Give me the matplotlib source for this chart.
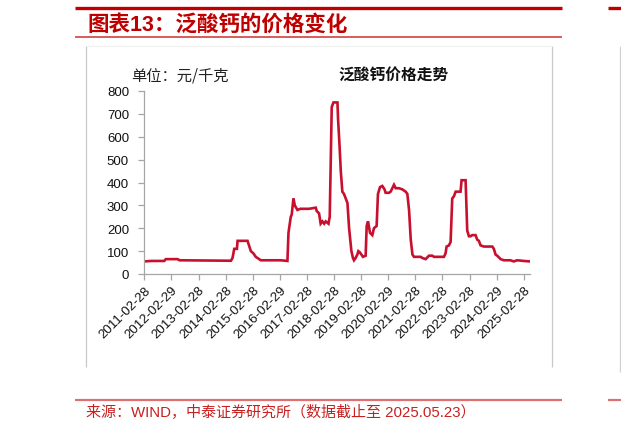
import matplotlib
matplotlib.use("Agg")
import matplotlib.pyplot as plt
import matplotlib.dates as mdates
from matplotlib.lines import Line2D
import pandas as pd

# ---- data ----
dates = [
    "2011-02-28", "2011-05-28", "2011-11-24", "2011-12-15", "2012-05-22", "2012-06-15",
    "2013-06-01", "2014-05-10", "2014-06-01", "2014-06-24", "2014-07-30", "2014-08-08",
    "2014-12-20", "2015-02-03", "2015-03-10", "2015-04-10", "2015-05-26", "2015-06-17",
    "2016-03-12", "2016-06-10", "2016-06-24", "2016-07-25", "2016-08-07", "2016-08-30",
    "2016-09-17", "2016-10-23", "2016-12-01", "2017-03-28", "2017-06-27", "2017-07-10",
    "2017-08-10", "2017-09-01", "2017-09-25", "2017-10-18", "2017-11-08", "2017-12-15",
    "2018-01-01", "2018-01-28", "2018-02-20", "2018-04-15", "2018-04-23", "2018-05-15",
    "2018-05-30", "2018-06-20", "2018-07-12", "2018-08-05", "2018-08-28", "2018-09-19",
    "2018-10-20", "2018-11-10", "2018-11-24", "2018-12-16", "2019-01-08", "2019-01-22",
    "2019-02-10", "2019-03-04", "2019-03-25", "2019-04-30", "2019-05-14", "2019-06-01",
    "2019-06-28", "2019-07-29", "2019-08-20", "2019-09-25", "2019-10-13", "2019-11-10",
    "2019-12-10", "2020-01-10", "2020-01-24", "2020-03-10", "2020-04-01", "2020-05-16",
    "2020-06-08", "2020-07-22", "2020-09-05", "2020-10-20", "2020-11-12", "2020-12-05",
    "2020-12-28", "2021-01-20", "2021-02-10", "2021-05-10", "2021-06-03", "2021-07-17",
    "2021-08-30", "2021-10-14", "2021-11-06", "2022-03-20", "2022-04-11", "2022-04-25",
    "2022-05-26", "2022-06-18", "2022-07-10", "2022-08-02", "2022-08-25", "2022-10-30",
    "2022-11-13", "2023-01-06", "2023-01-28", "2023-02-20", "2023-03-14", "2023-04-05",
    "2023-05-20", "2023-06-12", "2023-07-04", "2023-07-27", "2023-09-10", "2024-01-01",
    "2024-01-22", "2024-02-14", "2024-03-07", "2024-04-22", "2024-06-05", "2024-09-01",
    "2024-10-16", "2024-12-01", "2025-03-01", "2025-05-23",
]
prices = [
    55, 57, 57, 65, 65, 60,
    59, 58, 70, 110, 110, 145,
    145, 100, 90, 75, 65, 60,
    60, 57, 180, 250, 260, 330,
    300, 280, 285, 285, 290, 275,
    265, 220, 230, 220, 230, 220,
    250, 730, 750, 750, 680, 550,
    450, 360, 350, 330, 310, 200,
    100, 70, 60, 70, 85, 100,
    95, 85, 75, 80, 210, 230,
    180, 170, 200, 210, 350, 380,
    385, 370, 355, 355, 360, 390,
    375, 375, 370, 360, 350, 280,
    150, 85, 75, 75, 70, 65,
    80, 80, 75, 75, 90, 120,
    125, 140, 330, 340, 360, 360,
    410, 410, 190, 165, 165, 170,
    170, 150, 145, 125, 120, 120,
    110, 85, 80, 65, 60, 60,
    55, 60, 57, 55,
]
tick_labels = ["2011-02-28", "2012-02-29", "2013-02-28", "2014-02-28", "2015-02-28",
               "2016-02-29", "2017-02-28", "2018-02-28", "2019-02-28", "2020-02-29",
               "2021-02-28", "2022-02-28", "2023-02-28", "2024-02-29", "2025-02-28"]
y_ticks = [0, 100, 200, 300, 400, 500, 600, 700, 800]

title_text = "图表13：泛酸钙的价格变化"
unit_text = "单位：元/千克"
chart_title = "泛酸钙价格走势"
source_text = "来源：WIND，中泰证券研究所（数据截止至 2025.05.23）"

# ---- style ----
W, H = 621, 431
RED = "#C00000"
LINE_RED = "#C8102E"
GRAY = "#A6A6A6"
FAM = ["Liberation Sans", "Noto Sans CJK SC", "DejaVu Sans"]
CJK = ["Noto Sans CJK SC", "DejaVu Sans"]

fig = plt.figure(figsize=(W / 100, H / 100), dpi=100)
fig.patch.set_facecolor("white")

def fx(x):
    return x / W

def fy(y):
    return 1 - y / H

def hline(x0, x1, y, color, lw):
    fig.add_artist(Line2D([fx(x0), fx(x1)], [fy(y), fy(y)], transform=fig.transFigure,
                          color=color, lw=lw, solid_capstyle="butt"))

def vline(x, y0, y1, color, lw):
    fig.add_artist(Line2D([fx(x), fx(x)], [fy(y0), fy(y1)], transform=fig.transFigure,
                          color=color, lw=lw, solid_capstyle="butt"))

# header / footer rules
hline(74.5, 561.5, 8.5, "#C00000", 2.4)
hline(74.5, 561.5, 37.8, "#D03030", 1.1)
hline(74.5, 561.5, 400.8, "#E07070", 1.6)
hline(608, 621, 8.5, "#C00000", 2.4)
hline(608, 621, 400.8, "#E07070", 1.6)

# chart frame
vline(86, 47, 368, "#C8C8C8", 0.9)
vline(551.5, 47, 368, "#C8C8C8", 0.9)
hline(86, 551.5, 47, "#F0F0F0", 0.8)
vline(620, 47, 373, "#D0D0D0", 0.9)

fig.text(fx(87), fy(25), title_text, family=FAM, fontsize=15.5, fontweight="bold",
         color=RED, ha="left", va="center")
fig.text(fx(131), fy(76), unit_text, family=CJK, fontsize=11, color="#222222",
         ha="left", va="center")
fig.text(fx(393.5), fy(76), chart_title, family=CJK, fontsize=11.3, fontweight="bold",
         color="#111111", ha="center", va="center")
fig.text(fx(86), fy(411.5), source_text, family=FAM, fontsize=10.8, color="#C82020",
         ha="left", va="center")

# ---- axes ----
ax = fig.add_axes([fx(144.3), fy(275), fx(530) - fx(144.3), fy(92) - fy(275)])
x = pd.to_datetime(dates)
ax.plot(x, prices, color=LINE_RED, lw=1.9, solid_joinstyle="miter")
ax.set_ylim(0, 800)
ax.set_xlim(pd.Timestamp("2011-02-28"), pd.Timestamp("2025-05-23"))
ax.set_yticks(y_ticks)
ax.set_yticklabels([str(v) for v in y_ticks], family=FAM, fontsize=9.5, color="#111111")
tick_pos = pd.to_datetime(tick_labels)
ax.set_xticks(tick_pos)
ax.set_xticklabels(tick_labels, rotation=45, ha="right", rotation_mode="anchor",
                   family=FAM, fontsize=9.5, color="#111111")
for s in ("top", "right"):
    ax.spines[s].set_visible(False)
for s in ("left", "bottom"):
    ax.spines[s].set_color(GRAY)
    ax.spines[s].set_linewidth(0.9)
ax.tick_params(axis="both", colors=GRAY, length=4, width=0.9, labelcolor="#111111")
ax.tick_params(axis="x", pad=3)
ax.tick_params(axis="y", pad=7)
ax.patch.set_alpha(0)

fig.savefig("out.png", dpi=100, facecolor="white")
